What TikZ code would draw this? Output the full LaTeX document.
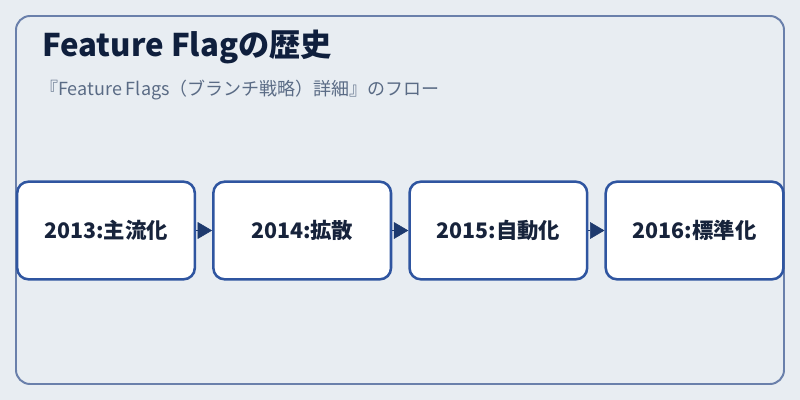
\documentclass[tikz,border=0pt]{standalone}
\usepackage{fontspec}
\setmainfont{Noto Sans CJK JP}
\usetikzlibrary{arrows.meta,positioning}
\definecolor{bgcol}{HTML}{E8EDF2}
\definecolor{framecol}{HTML}{6A80AB}
\definecolor{boxcol}{HTML}{2F55A0}
\definecolor{arrowcol}{HTML}{1E3A6E}
\definecolor{titlecol}{HTML}{0F1F3D}
\definecolor{subcol}{HTML}{5A6B85}
\definecolor{textcol}{HTML}{17233B}

\begin{document}
\begin{tikzpicture}[x=0.025cm, y=-0.025cm, node distance=0.4cm, line/.style={draw=arrowcol,line width=0.4pt,-{Triangle[length=3.6mm,width=4.2mm]}}, stage/.style={rectangle,draw=boxcol,fill=white,line width=1.8pt,rounded corners=8pt,minimum width=4.44cm,minimum height=2.44cm,inner sep=0pt,text=textcol,font=\bfseries\fontsize{15.2}{18}\selectfont}]
\fill[bgcol] (0,0) rectangle (800,400);
\draw[framecol,line width=1.4pt,rounded corners=10pt] (16,16) rectangle (784,384);
\node[anchor=base west,text=titlecol,font=\bfseries\fontsize{22.2}{26}\selectfont,inner sep=0pt] (title) at (42,57) {Feature Flagの歴史};
\node[anchor=base west,text=subcol,font=\fontsize{12.8}{15}\selectfont,inner sep=0pt] (sub) at (40,96) {『Feature Flags（ブランチ戦略）詳細』のフロー};
\node[stage] (s1) at (106,230.5) {2013:主流化};
\node[stage,right=of s1] (s2) {2014:拡散};
\node[stage,right=of s2] (s3) {2015:自動化};
\node[stage,right=of s3] (s4) {2016:標準化};
\draw[line] (s1) -- (s2);
\draw[line] (s2) -- (s3);
\draw[line] (s3) -- (s4);
\end{tikzpicture}
\end{document}
